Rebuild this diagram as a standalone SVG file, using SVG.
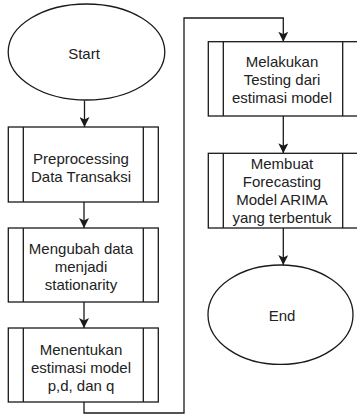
<svg xmlns="http://www.w3.org/2000/svg" width="357" height="415" viewBox="0 0 357 415">
<defs>
<style>
.shape{fill:#fff;stroke:#1a1a1a;stroke-width:1.3}
.edge{fill:none;stroke:#1a1a1a;stroke-width:1.3}
text{font-family:"Liberation Sans",Arial,sans-serif;font-size:15px;fill:#222;text-anchor:middle}
</style>
<marker id="arrow" viewBox="0 0 10 10" refX="10" refY="5" markerWidth="10" markerHeight="10" markerUnits="userSpaceOnUse" orient="auto">
<path d="M0,0 L10,5 L0,10 L2.5,5 z" fill="#1a1a1a"/>
</marker>
</defs>
<rect width="357" height="415" fill="#fff"/>
<g id="connectors">
<path class="edge" d="M84.5,100.5 V127" marker-end="url(#arrow)"/>
<path class="edge" d="M84,202 V228" marker-end="url(#arrow)"/>
<path class="edge" d="M84,302 V328" marker-end="url(#arrow)"/>
<path class="edge" d="M84,402 V413 H184 V18 H283.3 V41.7" marker-end="url(#arrow)"/>
<path class="edge" d="M283.3,116 V153.3" marker-end="url(#arrow)"/>
<path class="edge" d="M283.3,228 V265" marker-end="url(#arrow)"/>
</g>
<g id="start">
<ellipse class="shape" cx="86.5" cy="52" rx="78.3" ry="48"/>
<text x="84" y="59">Start</text>
</g>
<g id="preprocessing">
<rect class="shape" x="8.3" y="127" width="150" height="75"/>
<path class="edge" d="M23.3,127 V202 M143.3,127 V202"/>
<text x="81" y="163.5">Preprocessing</text>
<text x="81" y="182">Data Transaksi</text>
</g>
<g id="stationarity">
<rect class="shape" x="8.3" y="228" width="150" height="74"/>
<path class="edge" d="M23.3,228 V302 M143.3,228 V302"/>
<text x="81" y="253.5">Mengubah data</text>
<text x="81" y="271.5">menjadi</text>
<text x="81" y="289.5">stationarity</text>
</g>
<g id="estimasi">
<rect class="shape" x="8.3" y="328" width="150" height="74"/>
<path class="edge" d="M23.3,328 V402 M143.3,328 V402"/>
<text x="81" y="354.5">Menentukan</text>
<text x="81" y="372.5">estimasi model</text>
<text x="81" y="390.5">p,d, dan q</text>
</g>
<g id="testing">
<rect class="shape" x="208.3" y="41.7" width="150" height="74.3"/>
<path class="edge" d="M223.3,41.7 V116 M342.7,41.7 V116"/>
<text x="282" y="67">Melakukan</text>
<text x="282" y="85">Testing dari</text>
<text x="282" y="103">estimasi model</text>
</g>
<g id="forecasting">
<rect class="shape" x="208.3" y="153.3" width="150" height="74.7"/>
<path class="edge" d="M223.3,153.3 V228 M342.7,153.3 V228"/>
<text x="282" y="168.5">Membuat</text>
<text x="282" y="186.5">Forecasting</text>
<text x="282" y="204.5">Model ARIMA</text>
<text x="282" y="222.5">yang terbentuk</text>
</g>
<g id="end">
<ellipse class="shape" cx="280.5" cy="314.7" rx="72.5" ry="49.7"/>
<text x="282" y="320.5">End</text>
</g>
</svg>
